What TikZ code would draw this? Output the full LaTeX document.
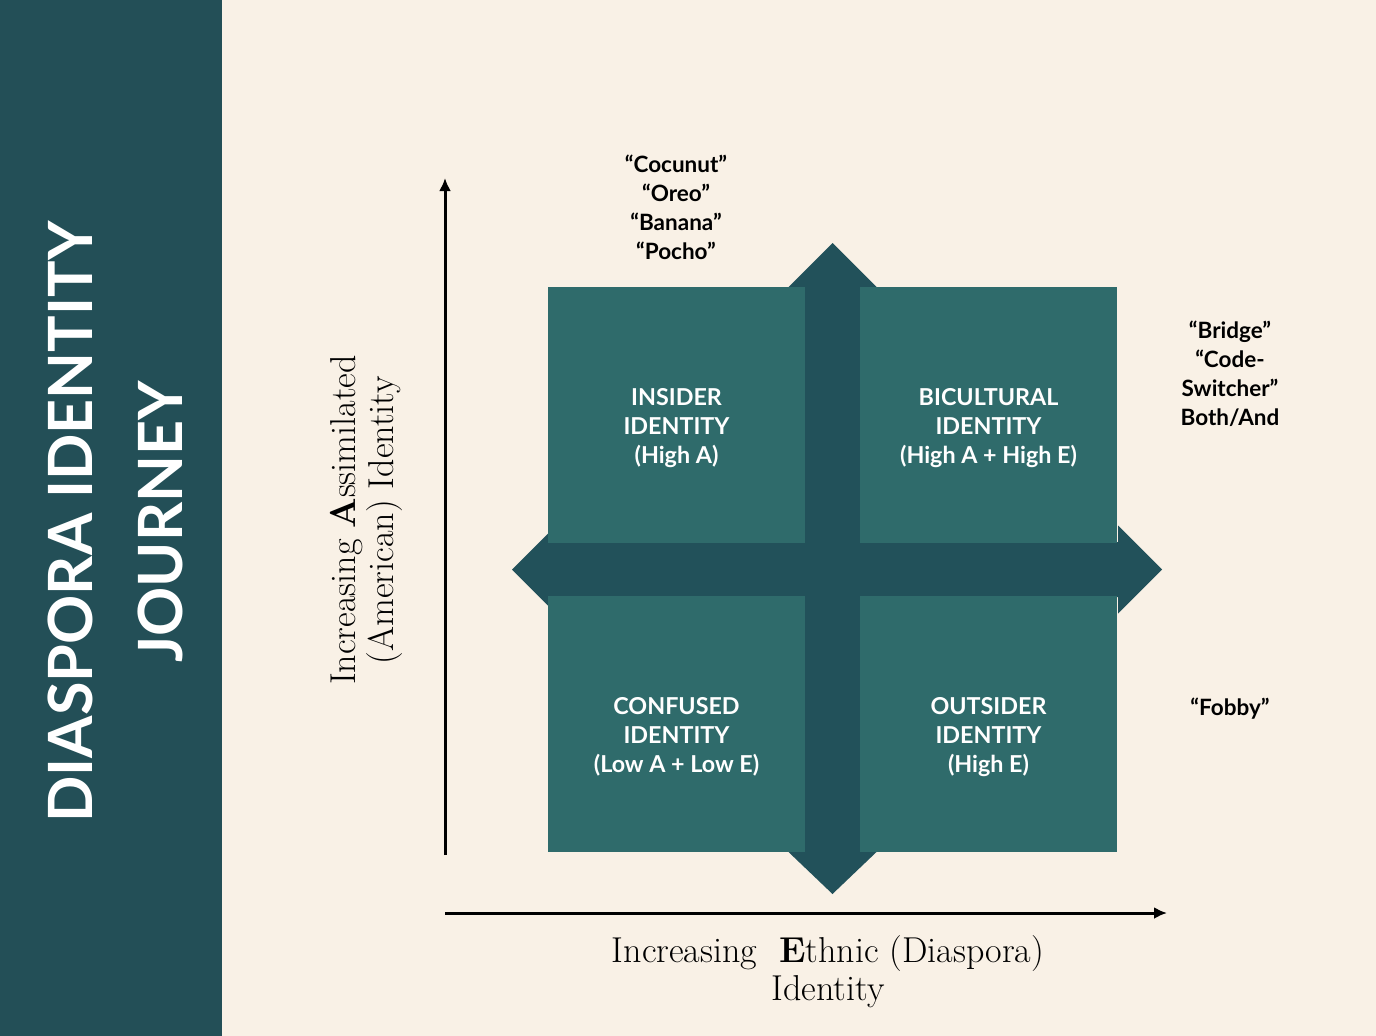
\documentclass[tikz,border=0pt]{standalone}
\usepackage{fontspec}
\newfontfamily\latofont{Lato}
\usepackage{tikz}
\usetikzlibrary{arrows.meta}

\definecolor{cream}{HTML}{F9F1E6}
\definecolor{bandteal}{HTML}{234F57}
\definecolor{barteal}{HTML}{22515A}
\definecolor{quadteal}{HTML}{2F6B6B}

\begin{document}
\begin{tikzpicture}[x=1pt,y=-1pt,
    quad/.style={fill=quadteal,minimum width=257pt,minimum height=256pt,inner sep=0pt},
    quadtext/.style={text=white,align=center,font=\latofont\bfseries\fontsize{23.3}{29}\selectfont},
    quotetext/.style={text=black,align=center,font=\latofont\bfseries\fontsize{22.5}{29}\selectfont},
    axis/.style={line width=3pt,-{Latex[length=13pt,width=12pt]}},
    axislabel/.style={align=center,font=\fontsize{36}{38}\selectfont}]
    \useasboundingbox (0,0) rectangle (1376,1036);
    \fill[cream] (0,0) rectangle (1376,1036);
    \fill[bandteal] (0,0) rectangle (222,1036);
    \node[rotate=90,text=white,align=center,font=\latofont\bfseries\fontsize{61}{90}\selectfont] (title) at (115,522) {DIASPORA IDENTITY\\JOURNEY};
    % the cross of arrows behind the squares
    \fill[barteal] (832.5,243) -- (876.5,287) -- (860,287) -- (860,852) -- (876.5,852) -- (832.5,894)
      -- (788.5,852) -- (805,852) -- (805,287) -- (788.5,287) -- cycle;
    \fill[barteal] (512,569.5) -- (556,525.5) -- (556,542) -- (1118,542) -- (1118,525.5) -- (1162,569.5)
      -- (1118,613.5) -- (1118,597) -- (556,597) -- (556,613.5) -- cycle;
    \foreach \name/\x/\y/\txt in {insider/676.5/415/{INSIDER\\IDENTITY\\(High A)},
        bicultural/988.5/415/{BICULTURAL\\IDENTITY\\(High A + High E)},
        confused/676.5/724/{CONFUSED\\IDENTITY\\(Low A + Low E)},
        outsider/988.5/724/{OUTSIDER\\IDENTITY\\(High E)}}
    {
    \node[quad] (\name) at (\x,\y) {};
    \node[quadtext] (\name-txt) at ([yshift=-13pt]\name.center) {\txt};
    }
    \node[quotetext] (cocunut) at (676,207.5) {“Cocunut”\\“Oreo”\\“Banana”\\“Pocho”};
    \node[quotetext] (bridge) at (1230,373.5) {“Bridge”\\“Code-\\Switcher”\\Both/And};
    \node[quotetext] (fobby) at (1230,709) {“Fobby”};
    \coordinate (yfoot) at (445,855);
    \coordinate (yhead) at (445,178);
    \coordinate (xfoot) at (445,913);
    \coordinate (xhead) at (1167,913);
    \draw[axis] (yfoot) -- (yhead);
    \draw[axis] (xfoot) -- (xhead);
    \node[axislabel,rotate=90] (ylabel) at (366,520) {Increasing \textbf{A}ssimilated\\(American) Identity};
    \node[axislabel] (xlabel) at (828,972) {Increasing\ \ \textbf{E}thnic (Diaspora)\\Identity};
\end{tikzpicture}
\end{document}
